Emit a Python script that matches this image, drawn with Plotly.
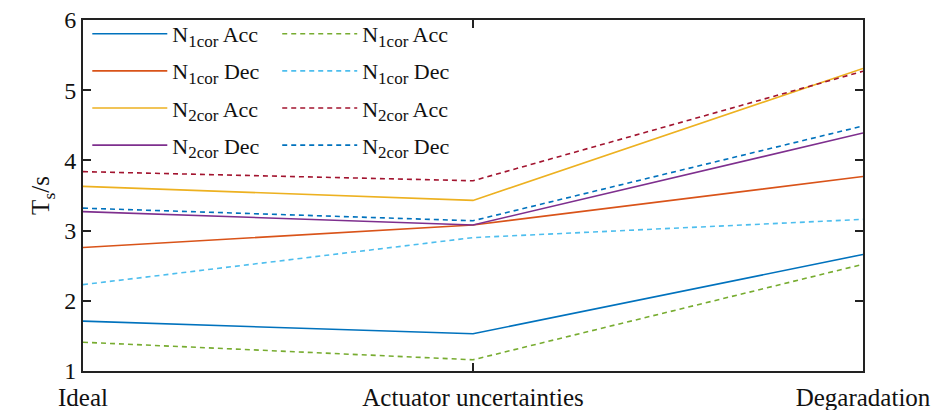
import plotly.graph_objects as go

categories = ["Ideal", "Actuator uncertainties", "Degaradation"]

n1_acc = [1.71, 1.53, 2.66]
n1_dec = [2.76, 3.08, 3.77]
n2_acc = [3.63, 3.43, 5.31]
n2_dec = [3.27, 3.08, 4.39]
n1_acc_b = [1.41, 1.16, 2.52]
n1_dec_b = [2.23, 2.90, 3.16]
n2_acc_b = [3.84, 3.71, 5.27]
n2_dec_b = [3.32, 3.14, 4.49]

SUB = "<sub><span style='font-size:17px'>{}</span></sub>"
names = ["N" + SUB.format("1cor") + " Acc", "N" + SUB.format("1cor") + " Dec",
         "N" + SUB.format("2cor") + " Acc", "N" + SUB.format("2cor") + " Dec"]

solid_series = [n1_acc, n1_dec, n2_acc, n2_dec]
solid_colors = ["#0072BD", "#D95319", "#EDB120", "#7E2F8E"]
dash_series = [n1_acc_b, n1_dec_b, n2_acc_b, n2_dec_b]
dash_colors = ["#77AC30", "#4DBEEE", "#A2142F", "#0072BD"]

fig = go.Figure()
for i, (nm, ys, c) in enumerate(zip(names, solid_series, solid_colors)):
    fig.add_trace(go.Scatter(x=categories, y=ys, mode="lines", name=nm, legendgroup=f"s{i}",
                             line=dict(color=c, width=1.6), legend="legend"))
for i, (nm, ys, c) in enumerate(zip(names, dash_series, dash_colors)):
    fig.add_trace(go.Scatter(x=categories, y=ys, mode="lines", name=nm, legendgroup=f"d{i}",
                             line=dict(color=c, width=1.6, dash="5px,4px"), legend="legend2"))

font_family = "Liberation Serif"
leg_common = dict(font=dict(family=font_family, size=22, color="#111"),
                  bgcolor="rgba(255,255,255,0)", borderwidth=0, traceorder="grouped",
                  xanchor="left", yanchor="top", itemwidth=75, tracegroupgap=5.5)

fig.update_layout(
    width=939, height=410,
    margin=dict(l=83, r=76, t=20, b=39, autoexpand=False),
    plot_bgcolor="white", paper_bgcolor="white",
    font=dict(family=font_family, size=25, color="#111"),
    legend=dict(x=0.0055, y=1.02, **leg_common),
    legend2=dict(x=0.249, y=1.02, **leg_common),
    xaxis=dict(type="category", range=[0, 2], showgrid=False, zeroline=False, automargin=False,
               showline=True, linecolor="#222", linewidth=2, mirror="ticks",
               ticks="inside", ticklen=8, tickwidth=2, tickcolor="#222", ticklabelstandoff=3,
               tickfont=dict(size=25, family=font_family)),
    yaxis=dict(range=[1, 6], tickvals=[1, 2, 3, 4, 5, 6], showgrid=False, zeroline=False, automargin=False,
               showline=True, linecolor="#222", linewidth=2, mirror="ticks",
               ticks="inside", ticklen=8, tickwidth=2, tickcolor="#222",
               tickfont=dict(size=24, family=font_family),
               title=dict(text="T<sub>s</sub>/s", font=dict(size=25, family=font_family), standoff=7)),
)

fig.write_html("out.html", config={"displayModeBar": False},
               post_script="document.body.style.margin='0';document.body.style.overflow='hidden';")
